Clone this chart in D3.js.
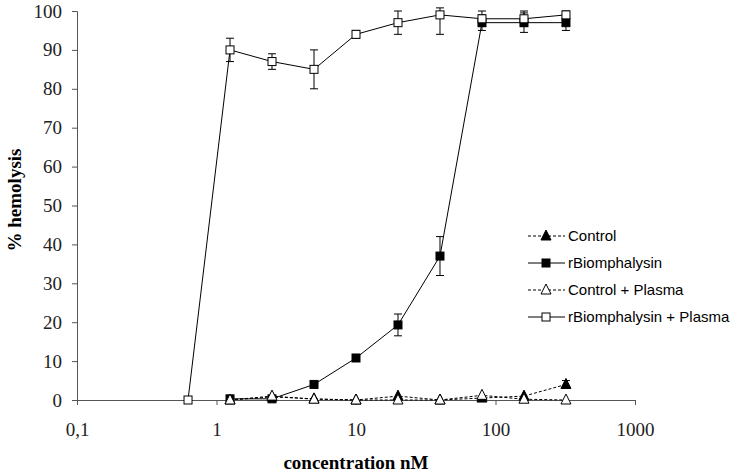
<!DOCTYPE html>
<html><head><meta charset="utf-8">
<script src="https://cdn.jsdelivr.net/npm/d3@7/dist/d3.min.js"></script>
<style>body{margin:0;background:#fff}svg{display:block}</style>
</head><body>
<svg id="c" width="738" height="476"></svg>
<script>
const conc = [1.25, 2.5, 5, 10, 20, 40, 80, 160, 320];
const concPlasma = [0.625, 1.25, 2.5, 5, 10, 20, 40, 80, 160, 320];
const control = [0, 0.8, 0.3, 0, 1, 0, 0.5, 1, 4];
const controlErr = [0, 0, 0, 0, 0, 0, 0, 0, 1];
const rBio = [0.3, 0.3, 4, 10.8, 19.3, 37, 97, 97, 97];
const rBioErr = [0, 0, 0, 0, 2.8, 5, 2, 2.5, 2];
const controlPlasma = [0, 1, 0.2, 0, 0, 0, 1.2, 0.2, 0];
const rBioPlasma = [0, 90, 87, 85, 94, 97, 99, 98, 98, 99];
const rBioPlasmaErr = [0, 3, 2, 5, 1, 3, 5, 2, 2, 1];
const xTicks = [0.1, 1, 10, 100, 1000];
const xTickLabels = ["0,1", "1", "10", "100", "1000"];
const yTicks = [0, 10, 20, 30, 40, 50, 60, 70, 80, 90, 100];
const legendLabels = ["Control", "rBiomphalysin", "Control + Plasma", "rBiomphalysin + Plasma"];

const svg = d3.select("#c");
const x = d3.scaleLog().domain([0.1, 1000]).range([77, 635]);
const y = d3.scaleLinear().domain([0, 100]).range([400, 11]);
const axisColor = "#555";

const gy = svg.append("g").attr("transform", "translate(77,0)")
  .call(d3.axisLeft(y).tickValues(yTicks).tickSize(5).tickPadding(10).tickFormat(d3.format("d")));
gy.select(".domain").attr("stroke", axisColor);
gy.selectAll(".tick line").attr("stroke", axisColor);
gy.selectAll("text").attr("font-family", "Liberation Serif").attr("font-size", 19).attr("fill", "#222");

const gx = svg.append("g").attr("transform", "translate(0,400)")
  .call(d3.axisBottom(x).tickValues(xTicks).tickSize(5).tickPadding(18).tickFormat((d, i) => xTickLabels[i]));
gx.select(".domain").attr("stroke", axisColor);
gx.selectAll(".tick line").attr("stroke", axisColor);
gx.selectAll("text").attr("font-family", "Liberation Serif").attr("font-size", 19).attr("fill", "#222");

svg.append("text").attr("transform", "translate(21,200) rotate(-90)")
  .attr("text-anchor", "middle").attr("font-family", "Liberation Serif").attr("font-weight", "bold")
  .attr("font-size", 19).text("% hemolysis");
svg.append("text").attr("x", 356).attr("y", 469)
  .attr("text-anchor", "middle").attr("font-family", "Liberation Serif").attr("font-weight", "bold")
  .attr("font-size", 19).text("concentration nM");

const line = d3.line().x(d => x(d[0])).y(d => y(d[1]));

function marker(g, type, cx, cy) {
  if (type === "sqFill" || type === "sqOpen") {
    g.append("rect").attr("x", cx - 4).attr("y", cy - 4).attr("width", 8).attr("height", 8)
      .attr("fill", type === "sqFill" ? "#000" : "#fff").attr("stroke", "#000").attr("stroke-width", 1);
  } else {
    const s = 5;
    g.append("path").attr("d", `M${cx},${cy - s - 1}L${cx + s},${cy + s * 0.8}L${cx - s},${cy + s * 0.8}Z`)
      .attr("fill", type === "triFill" ? "#000" : "#fff").attr("stroke", "#000").attr("stroke-width", 1);
  }
}

const series = [
  {xs: conc, vals: control, err: controlErr, type: "triFill", dash: "3,2"},
  {xs: conc, vals: rBio, err: rBioErr, type: "sqFill", dash: null},
  {xs: conc, vals: controlPlasma, err: null, type: "triOpen", dash: "3,2"},
  {xs: concPlasma, vals: rBioPlasma, err: rBioPlasmaErr, type: "sqOpen", dash: null}
];

series.forEach(s => {
  const g = svg.append("g");
  const pts = s.xs.map((c, i) => [c, s.vals[i]]);
  g.append("path").attr("d", line(pts)).attr("fill", "none").attr("stroke", "#000")
    .attr("stroke-width", 1).attr("stroke-dasharray", s.dash);
  if (s.err) {
    pts.forEach((p, i) => {
      const e = s.err[i];
      if (!e) return;
      const cx = x(p[0]);
      const hi = Math.min(p[1] + e, 100.8);
      g.append("line").attr("x1", cx).attr("x2", cx).attr("y1", y(p[1] - e)).attr("y2", y(hi)).attr("stroke", "#000");
      [p[1] - e, hi].forEach(v => g.append("line").attr("x1", cx - 4).attr("x2", cx + 4)
        .attr("y1", y(v)).attr("y2", y(v)).attr("stroke", "#000"));
    });
  }
  pts.forEach(p => marker(g, s.type, x(p[0]), y(p[1])));
});

const lg = svg.append("g");
legendLabels.forEach((lab, i) => {
  const s = series[i];
  const ly = 236 + i * 27;
  lg.append("line").attr("x1", 528).attr("x2", 565).attr("y1", ly).attr("y2", ly)
    .attr("stroke", "#000").attr("stroke-dasharray", s.dash);
  marker(lg, s.type, 546, ly);
  lg.append("text").attr("x", 568).attr("y", ly + 5).attr("font-family", "Liberation Sans")
    .attr("font-size", 15).attr("fill", "#000").text(lab);
});
</script>
</body></html>
